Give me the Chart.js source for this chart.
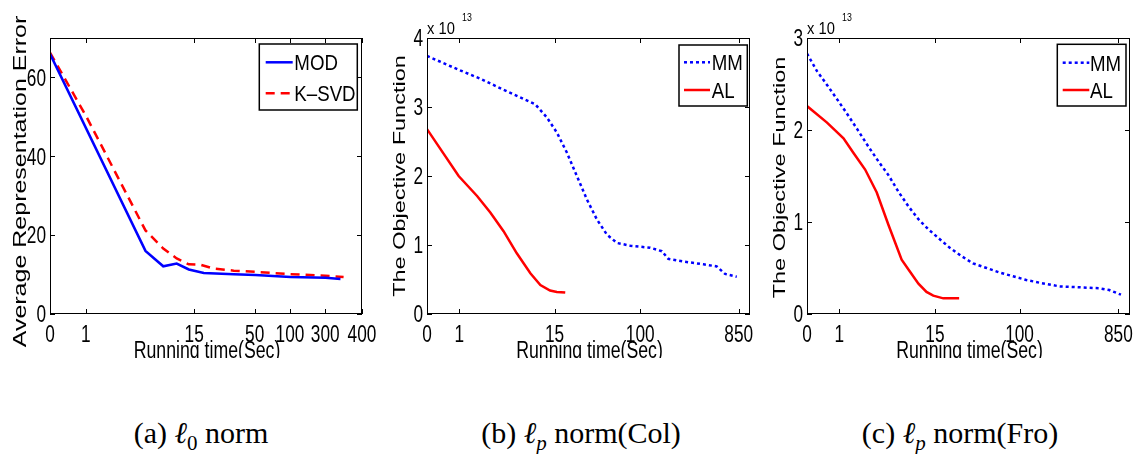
<!DOCTYPE html>
<html>
<head>
<meta charset="utf-8">
<script src="https://cdn.jsdelivr.net/npm/chart.js@4"></script>
<style>
  body { margin: 0; background: #fff; width: 1138px; height: 454px; position: relative; overflow: hidden; }
  .panel { position: absolute; top: 0; height: 358px; overflow: hidden; }
  .panel canvas { position: absolute; left: 0; top: 0; }
  .caption { position: absolute; top: 416px; font-family: 'Liberation Serif', 'DejaVu Serif', serif; font-size: 30px; line-height: 34px; transform: translateX(-50%); white-space: nowrap; color: #000; }
  .caption sub { font-size: 70%; }
</style>
</head>
<body>
<div class="panel" style="left:0;width:385px"><canvas id="chartA" width="385" height="380"></canvas></div>
<div class="panel" style="left:375px;width:395px"><canvas id="chartB" width="395" height="380"></canvas></div>
<div class="panel" style="left:755px;width:383px"><canvas id="chartC" width="383" height="380"></canvas></div>
<div class="caption" style="left:201px">(a) <i>ℓ</i><sub>0</sub> norm</div>
<div class="caption" style="left:581px">(b) <i>ℓ<sub>p</sub></i> norm(Col)</div>
<div class="caption" style="left:960px">(c) <i>ℓ<sub>p</sub></i> norm(Fro)</div>
<script>
// running-time axis is not linear: positions are given in axis units (0-100 across the plot)
const timeTicksA = [0, 11.5, 46.2, 65.6, 76.9, 88.2, 100];
const timeLabelsA = ['0', '1', '15', '50', '100', '300', '400'];
const errTicks = [0, 20, 40, 60];

const modX = [0, 30.6, 36.3, 40.6, 44.5, 49.3, 58.9, 65.8, 77.1, 88.3, 93.1];
const modY = [66.0, 16.0, 12.1, 12.8, 11.3, 10.4, 10.1, 9.9, 9.4, 9.2, 8.9];
const ksvdX = [0, 11.7, 30.6, 36.3, 40.6, 44.5, 48.2, 52.5, 58.9, 65.8, 77.1, 88.3, 94.1];
const ksvdY = [66.3, 50.0, 21.2, 16.6, 14.1, 12.6, 12.5, 11.5, 11.0, 10.7, 10.1, 9.7, 9.4];

const timeTicksB = [0, 10.0, 39.5, 66.0, 96.5];
const timeLabelsB = ['0', '1', '15', '100', '850'];
const objTicksB = [0, 1, 2, 3, 4];
const mmColX = [0, 9.8, 16.5, 23.7, 33.5, 37.1, 40.2, 43.3, 46.4, 49.5, 52.6, 55.7, 58.8, 62.9, 69.1, 72.7, 74.7, 79.4, 85.6, 89.7, 92.3, 95.9];
const mmColY = [3.74, 3.54, 3.41, 3.25, 3.04, 2.85, 2.63, 2.34, 2.0, 1.66, 1.37, 1.15, 1.03, 0.99, 0.96, 0.91, 0.80, 0.76, 0.72, 0.69, 0.58, 0.54];
const alColX = [0, 9.8, 15.5, 19.6, 23.7, 27.8, 32.0, 35.1, 38.1, 40.2, 42.8];
const alColY = [2.68, 2.0, 1.71, 1.47, 1.20, 0.88, 0.59, 0.42, 0.34, 0.32, 0.31];

const timeTicksC = [0, 10.0, 39.6, 65.8, 96.4];
const timeLabelsC = ['0', '1', '15', '100', '850'];
const objTicksC = [0, 1, 2, 3];
const mmFroX = [0, 3.1, 6.2, 9.8, 12.9, 15.9, 19.0, 22.1, 25.2, 28.3, 31.4, 34.5, 37.6, 41.2, 44.2, 47.8, 51.4, 55.6, 59.7, 63.8, 67.9, 72.0, 78.2, 84.4, 90.5, 93.6, 97.2];
const mmFroY = [2.83, 2.64, 2.49, 2.31, 2.15, 1.99, 1.82, 1.66, 1.51, 1.33, 1.17, 1.03, 0.92, 0.81, 0.72, 0.63, 0.55, 0.50, 0.45, 0.41, 0.37, 0.34, 0.30, 0.29, 0.28, 0.26, 0.21];
const alFroX = [0, 6.2, 11.3, 14.4, 18.0, 21.6, 25.2, 29.3, 31.9, 34.5, 37.0, 39.1, 42.2, 47.1];
const alFroY = [2.26, 2.08, 1.91, 1.75, 1.57, 1.32, 0.97, 0.59, 0.46, 0.33, 0.24, 0.20, 0.17, 0.17];

const SANS = "'Liberation Sans', Arial, sans-serif";
const BLUE = '#0000ff';
const RED = '#ff0000';

const toPoints = (xs, ys) => xs.map((x, i) => ({ x, y: ys[i] }));

// the figure's helvetica is squeezed sideways, so text is drawn with a horizontal scale
const drawText = (ctx, text, x, y, size, k, align = 'center', rotate = false) => {
  ctx.save();
  ctx.translate(x, y);
  if (rotate) {
    ctx.rotate(-Math.PI / 2);
    ctx.scale(1, k);
  } else {
    ctx.scale(k, 1);
  }
  ctx.font = size + 'px ' + SANS;
  ctx.fillStyle = '#000';
  ctx.textAlign = align;
  ctx.textBaseline = 'alphabetic';
  ctx.fillText(text, 0, 0);
  ctx.restore();
};

// matlab style box, inward ticks, labels, legend inside the axes and the x 10^13 note
const matlabFrame = {
  id: 'matlabFrame',
  afterDraw(chart, args, opts) {
    const { ctx, chartArea: a, scales: { x, y } } = chart;
    ctx.save();
    ctx.strokeStyle = '#000';
    ctx.lineWidth = 1;
    ctx.strokeRect(a.left + 0.5, a.top + 0.5, a.width - 1, a.height - 1);
    const t = 5;
    ctx.beginPath();
    x.ticks.forEach(tk => {
      const px = Math.round(x.getPixelForValue(tk.value)) + 0.5;
      ctx.moveTo(px, a.bottom); ctx.lineTo(px, a.bottom - t);
      ctx.moveTo(px, a.top); ctx.lineTo(px, a.top + t);
    });
    y.ticks.forEach(tk => {
      const py = Math.round(y.getPixelForValue(tk.value)) + 0.5;
      ctx.moveTo(a.left, py); ctx.lineTo(a.left + t, py);
      ctx.moveTo(a.right, py); ctx.lineTo(a.right - t, py);
    });
    ctx.stroke();

    // tick labels and axis titles
    x.ticks.forEach((tk, i) => {
      drawText(ctx, opts.xLabels[i], x.getPixelForValue(tk.value), a.bottom + 28, 23, 0.75);
    });
    y.ticks.forEach(tk => {
      drawText(ctx, String(tk.value), a.left - 4, y.getPixelForValue(tk.value) + 8.3, 23, 0.75, 'right');
    });
    drawText(ctx, 'Running time(Sec)', (a.left + a.right) / 2 + 1, a.bottom + 43.5, 23, 0.77);
    const yt = opts.yTitle;
    drawText(ctx, yt.text, a.left - yt.gap, yt.center, yt.size, 0.7, 'center', true);

    // legend
    const lg = opts.legend;
    const bx = a.right - lg.right - lg.w;
    const by = a.top + lg.top;
    ctx.fillStyle = '#fff';
    ctx.fillRect(bx, by, lg.w, lg.h);
    ctx.strokeStyle = '#000';
    ctx.lineWidth = 1.5;
    ctx.strokeRect(bx, by, lg.w, lg.h);
    chart.data.datasets.forEach((ds, i) => {
      const ry = by + lg.rows[i];
      ctx.strokeStyle = ds.borderColor;
      ctx.lineWidth = ds.borderWidth;
      ctx.setLineDash(ds.borderDash || []);
      ctx.beginPath();
      ctx.moveTo(bx + lg.line[0], ry);
      ctx.lineTo(bx + lg.line[1], ry);
      ctx.stroke();
      ctx.setLineDash([]);
      drawText(ctx, ds.label, bx + lg.text, ry + 8, 22, 0.85, 'left');
    });

    if (opts.exponent) {
      drawText(ctx, 'x 10', a.left, a.top - 4.5, 16, 0.92, 'left');
      drawText(ctx, opts.exponent, a.left + 35, a.top - 17.5, 11, 0.8, 'left');
    }
    ctx.restore();
  }
};

const makeChart = (id, cfg) => {
  new Chart(document.getElementById(id), {
    type: 'line',
    data: { datasets: cfg.datasets },
    options: {
      responsive: false,
      animation: false,
      events: [],
      layout: { padding: { top: 38, right: cfg.padRight, left: 0, bottom: 0 } },
      elements: { point: { radius: 0 }, line: { tension: 0, borderCapStyle: 'butt' } },
      plugins: {
        legend: { display: false },
        tooltip: { enabled: false },
        matlabFrame: { legend: cfg.legend, exponent: cfg.exponent, xLabels: cfg.xLabels, yTitle: cfg.yTitle }
      },
      scales: {
        x: {
          type: 'linear',
          min: 0,
          max: 100,
          grid: { display: false, drawTicks: false },
          border: { display: false },
          ticks: { display: false },
          afterBuildTicks: s => { s.ticks = cfg.xTicks.map(v => ({ value: v })); },
          afterFit: s => { s.height = 66; }
        },
        y: {
          min: 0,
          max: cfg.yMax,
          grid: { display: false, drawTicks: false },
          border: { display: false },
          ticks: { display: false },
          afterBuildTicks: s => { s.ticks = cfg.yTicks.map(v => ({ value: v })); },
          afterFit: s => { s.width = cfg.yWidth; }
        }
      }
    },
    plugins: [matlabFrame]
  });
};

makeChart('chartA', {
  datasets: [
    { label: 'MOD', data: toPoints(modX, modY), borderColor: BLUE, borderWidth: 2.5 },
    { label: 'K–SVD', data: toPoints(ksvdX, ksvdY), borderColor: RED, borderWidth: 2.5, borderDash: [9, 6] }
  ],
  xTicks: timeTicksA, xLabels: timeLabelsA,
  yTicks: errTicks, yMax: 70, yWidth: 50, padRight: 23,
  yTitle: { text: 'Average Representation Error', size: 25, gap: 24.5, center: 181.5 },
  legend: { right: 4.7, top: 6, w: 98, h: 66, rows: [18.3, 49.3], line: [6.4, 33.4], text: 35 }
});

makeChart('chartB', {
  datasets: [
    { label: 'MM', data: toPoints(mmColX, mmColY), borderColor: BLUE, borderWidth: 2.5, borderDash: [3, 3] },
    { label: 'AL', data: toPoints(alColX, alColY), borderColor: RED, borderWidth: 2.5 }
  ],
  xTicks: timeTicksB, xLabels: timeLabelsB,
  yTicks: objTicksB, yMax: 4, yWidth: 52, padRight: 20,
  yTitle: { text: 'The Objective Function', size: 23.5, gap: 22, center: 176 },
  legend: { right: 2.7, top: 7, w: 68.3, h: 61, rows: [17.3, 45], line: [5, 31], text: 32.7 },
  exponent: '13'
});

makeChart('chartC', {
  datasets: [
    { label: 'MM', data: toPoints(mmFroX, mmFroY), borderColor: BLUE, borderWidth: 2.5, borderDash: [3, 3] },
    { label: 'AL', data: toPoints(alFroX, alFroY), borderColor: RED, borderWidth: 2.5 }
  ],
  xTicks: timeTicksC, xLabels: timeLabelsC,
  yTicks: objTicksC, yMax: 3, yWidth: 52, padRight: 8,
  yTitle: { text: 'The Objective Function', size: 23.5, gap: 22.5, center: 177.5 },
  legend: { right: 4, top: 6.3, w: 68.7, h: 61.7, rows: [18.4, 45.7], line: [5.4, 32], text: 32.7 },
  exponent: '13'
});
</script>
</body>
</html>
